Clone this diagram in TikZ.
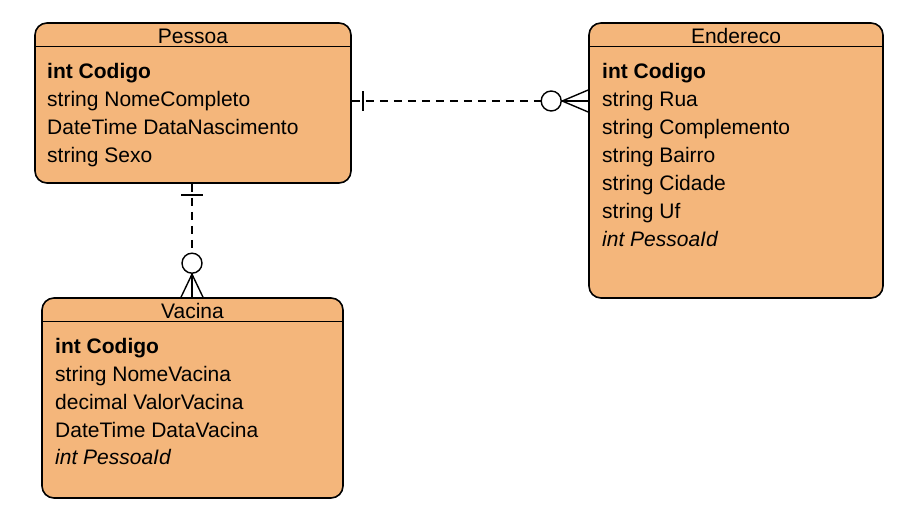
\documentclass[tikz,border=0pt]{standalone}
\usepackage{fontspec}
\setmainfont{Liberation Sans}
\definecolor{entfill}{RGB}{244,182,123}
\begin{document}
\begin{tikzpicture}[x=1pt,y=-1pt,
  entity/.style={draw=black,line width=1.6pt,fill=entfill,rounded corners=12pt,rectangle,inner sep=0pt},
  fld/.style={anchor=base west,inner sep=0pt,font=\fontsize{21}{24}\selectfont},
  hdr/.style={anchor=base,inner sep=0pt,font=\fontsize{21}{24}\selectfont},
  conn/.style={line width=1.3pt,dash pattern=on 8pt off 6pt},
  endmark/.style={line width=1.4pt}]
\useasboundingbox (0,0) rectangle (906,522);
% entities
\node[entity,minimum width=316pt,minimum height=160pt] (pessoa) at (193,103) {};
\node[entity,minimum width=294pt,minimum height=275pt] (endereco) at (736,160.5) {};
\node[entity,minimum width=301pt,minimum height=200pt] (vacina) at (192.5,398) {};
% header separators
\draw[line width=1.2pt] ([yshift=-24pt]pessoa.north west) -- ([yshift=-24pt]pessoa.north east);
\draw[line width=1.2pt] ([yshift=-24pt]endereco.north west) -- ([yshift=-24pt]endereco.north east);
\draw[line width=1.2pt] ([yshift=-24pt]vacina.north west) -- ([yshift=-24pt]vacina.north east);
% headers
\node[hdr] (hP) at (193,43.5) {Pessoa};
\node[hdr] (hE) at (736,43.5) {Endereco};
\node[hdr] (hV) at (192.5,318.5) {Vacina};
% Pessoa fields
\node[fld] (p1) at (47,78) {\bfseries int Codigo};
\node[fld] (p2) at (47,106) {string NomeCompleto};
\node[fld] (p3) at (47,134) {DateTime DataNascimento};
\node[fld] (p4) at (47,162) {string Sexo};
% Endereco fields
\node[fld] (e1) at (602,78) {\bfseries int Codigo};
\node[fld] (e2) at (602,106) {string Rua};
\node[fld] (e3) at (602,134) {string Complemento};
\node[fld] (e4) at (602,162) {string Bairro};
\node[fld] (e5) at (602,190) {string Cidade};
\node[fld] (e6) at (602,218) {string Uf};
\node[fld] (e7) at (602,246) {\itshape int PessoaId};
% Vacina fields
\node[fld] (v1) at (55,353) {\bfseries int Codigo};
\node[fld] (v2) at (55,381) {string NomeVacina};
\node[fld] (v3) at (55,409) {decimal ValorVacina};
\node[fld] (v4) at (55,437) {DateTime DataVacina};
\node[fld] (v5) at (55,464) {\itshape int PessoaId};
% connector Pessoa -- Endereco
\coordinate (a1) at ([yshift=2pt]pessoa.east);
\coordinate (a2) at (a1 -| endereco.west);
\draw[conn] (a1) -- (a2);
\draw[endmark] ([xshift=11pt,yshift=10pt]a1) -- ([xshift=11pt,yshift=-10pt]a1);
\draw[endmark,fill=white] ([xshift=-37pt]a2) circle (10pt);
\draw[endmark] ([xshift=-26pt]a2) -- ([yshift=11pt]a2);
\draw[endmark] ([xshift=-26pt]a2) -- ([yshift=-11pt]a2);
\draw[endmark] ([xshift=-27pt]a2) -- (a2);
% connector Pessoa -- Vacina
\coordinate (b1) at ([xshift=-1pt]pessoa.south);
\coordinate (b2) at (b1 |- vacina.north);
\draw[conn] (b1) -- (b2);
\draw[endmark] ([xshift=-11pt,yshift=-11pt]b1) -- ([xshift=11pt,yshift=-11pt]b1);
\draw[endmark,fill=white] ([yshift=34pt]b2) circle (10pt);
\draw[endmark] ([yshift=23pt]b2) -- ([xshift=-11pt]b2);
\draw[endmark] ([yshift=23pt]b2) -- ([xshift=11pt]b2);
\draw[endmark] ([yshift=24pt]b2) -- (b2);
\end{tikzpicture}
\end{document}
